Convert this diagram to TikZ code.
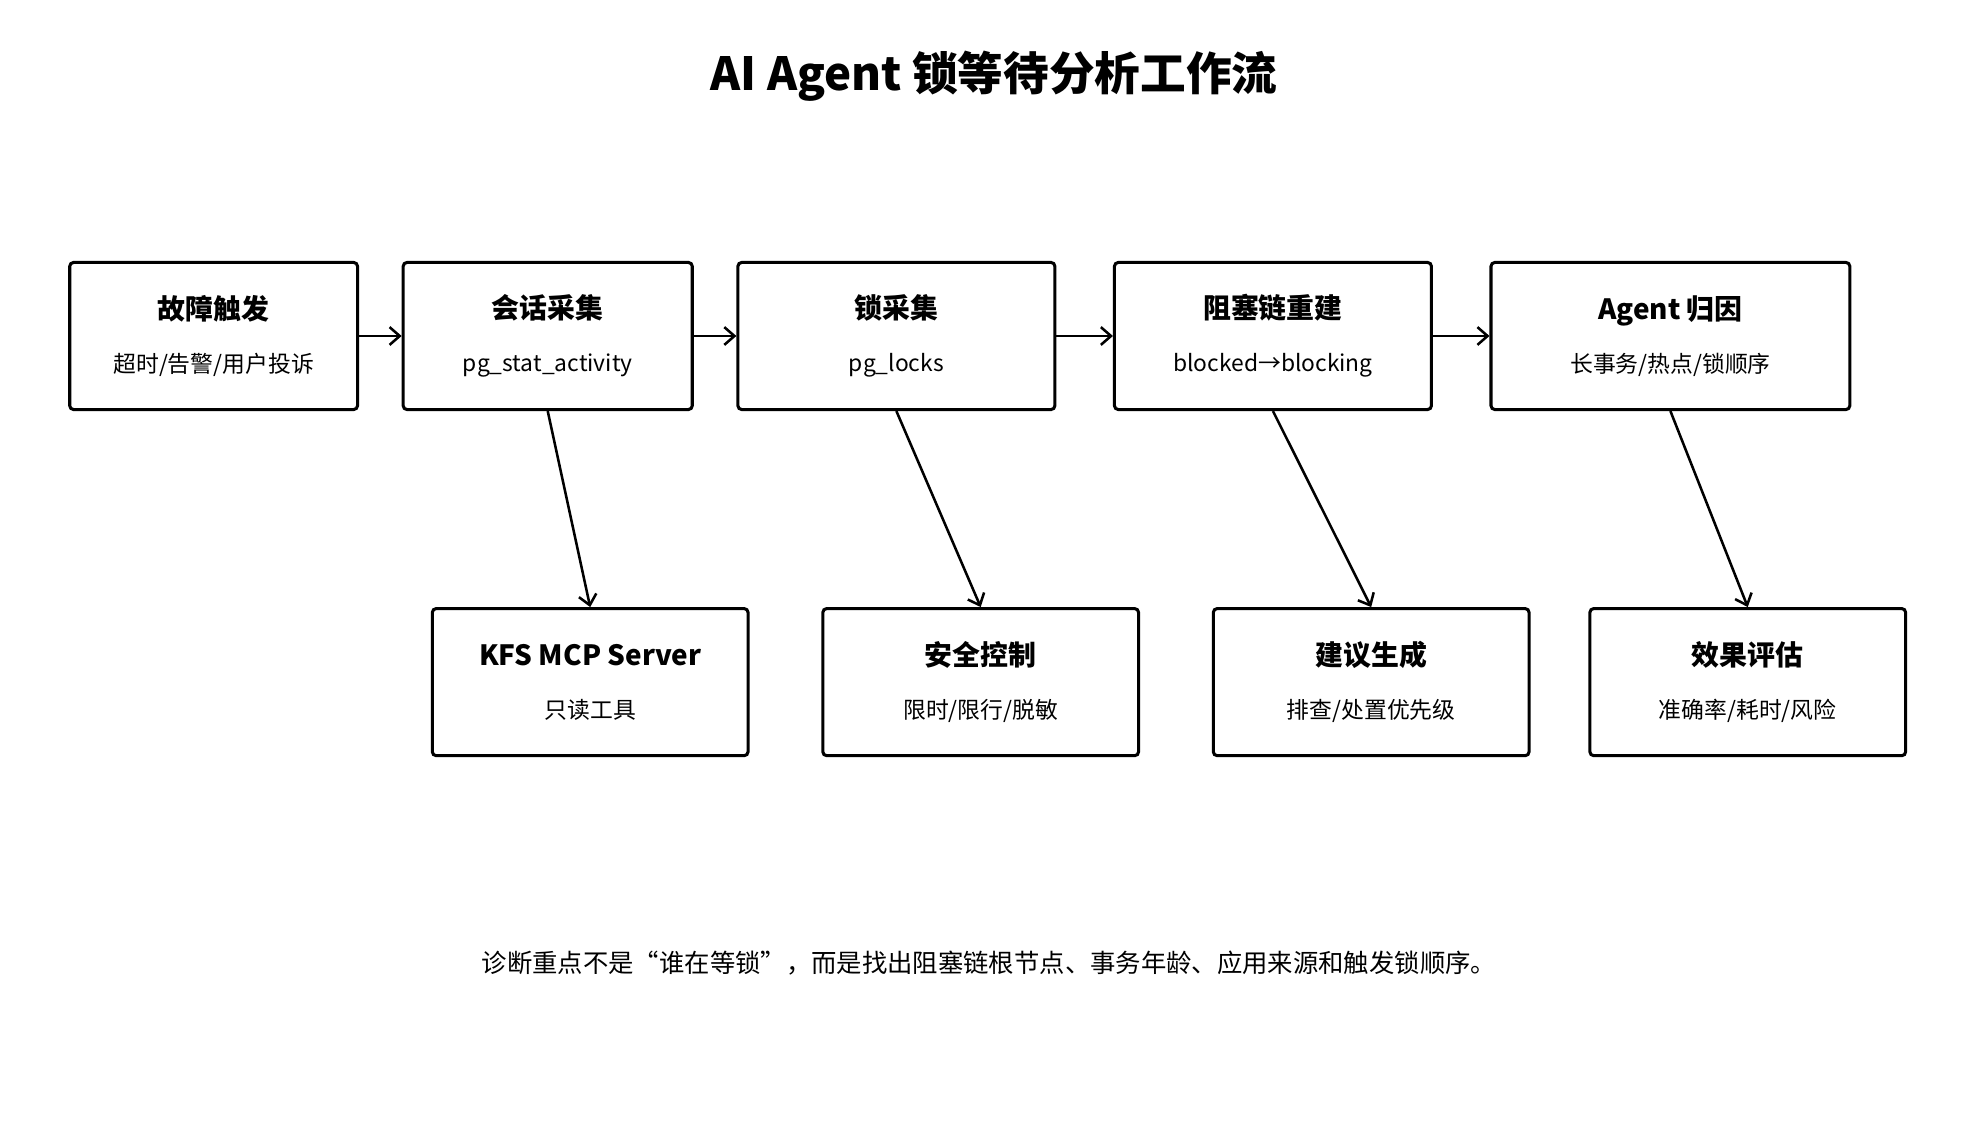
\documentclass[tikz,border=0pt]{standalone}
\usepackage{fontspec}
\setmainfont{Noto Sans CJK SC}
\usepackage{tikz}
\usetikzlibrary{arrows.meta}

\tikzset{
  stepbox/.style={draw, line width=1.2pt, rounded corners=1.5pt, minimum height=58pt, align=center, inner sep=0pt},
  flow/.style={line width=1pt, -{Straight Barb[length=4pt,width=7pt]}}
}
\newcommand{\boxtext}[2]{{\fontsize{11}{13}\selectfont\bfseries #1}\\[9pt]{\fontsize{9}{11}\selectfont #2}}

\begin{document}
\begin{tikzpicture}[x=0.5pt, y=-0.5pt]
    \useasboundingbox (0,0) rectangle (1568,902);
    \node[font=\fontsize{18}{22}\selectfont\bfseries] (title) at (784,60) {AI Agent 锁等待分析工作流};
    % main chain
    \node[stepbox, minimum width=113.5pt] (trig) at (168.5,265) {\boxtext{故障触发}{超时/告警/用户投诉}};
    \node[stepbox, minimum width=114pt] (sess) at (432,265) {\boxtext{会话采集}{pg\_stat\_activity}};
    \node[stepbox, minimum width=125pt] (lock) at (707,265) {\boxtext{锁采集}{pg\_locks}};
    \node[stepbox, minimum width=125pt] (chain) at (1004,265) {\boxtext{阻塞链重建}{blocked→blocking}};
    \node[stepbox, minimum width=141.5pt] (cause) at (1317.5,265) {\boxtext{Agent 归因}{长事务/热点/锁顺序}};
    % lower row
    \node[stepbox, minimum width=124.5pt] (mcp) at (465.5,538) {\boxtext{KFS MCP Server}{只读工具}};
    \node[stepbox, minimum width=124.5pt] (safe) at (773.5,538) {\boxtext{安全控制}{限时/限行/脱敏}};
    \node[stepbox, minimum width=124.5pt] (advice) at (1081.5,538) {\boxtext{建议生成}{排查/处置优先级}};
    \node[stepbox, minimum width=124.5pt] (eval) at (1378.5,538) {\boxtext{效果评估}{准确率/耗时/风险}};
    \draw[flow] (trig) -- (sess);
    \draw[flow] (sess) -- (lock);
    \draw[flow] (lock) -- (chain);
    \draw[flow] (chain) -- (cause);
    \draw[flow] (sess.south) -- (mcp.north);
    \draw[flow] (lock.south) -- (safe.north);
    \draw[flow] (chain.south) -- (advice.north);
    \draw[flow] (cause.south) -- (eval.north);
    \node[font=\fontsize{10}{12}\selectfont] (note) at (780,760) {诊断重点不是“谁在等锁”，而是找出阻塞链根节点、事务年龄、应用来源和触发锁顺序。};
\end{tikzpicture}
\end{document}
